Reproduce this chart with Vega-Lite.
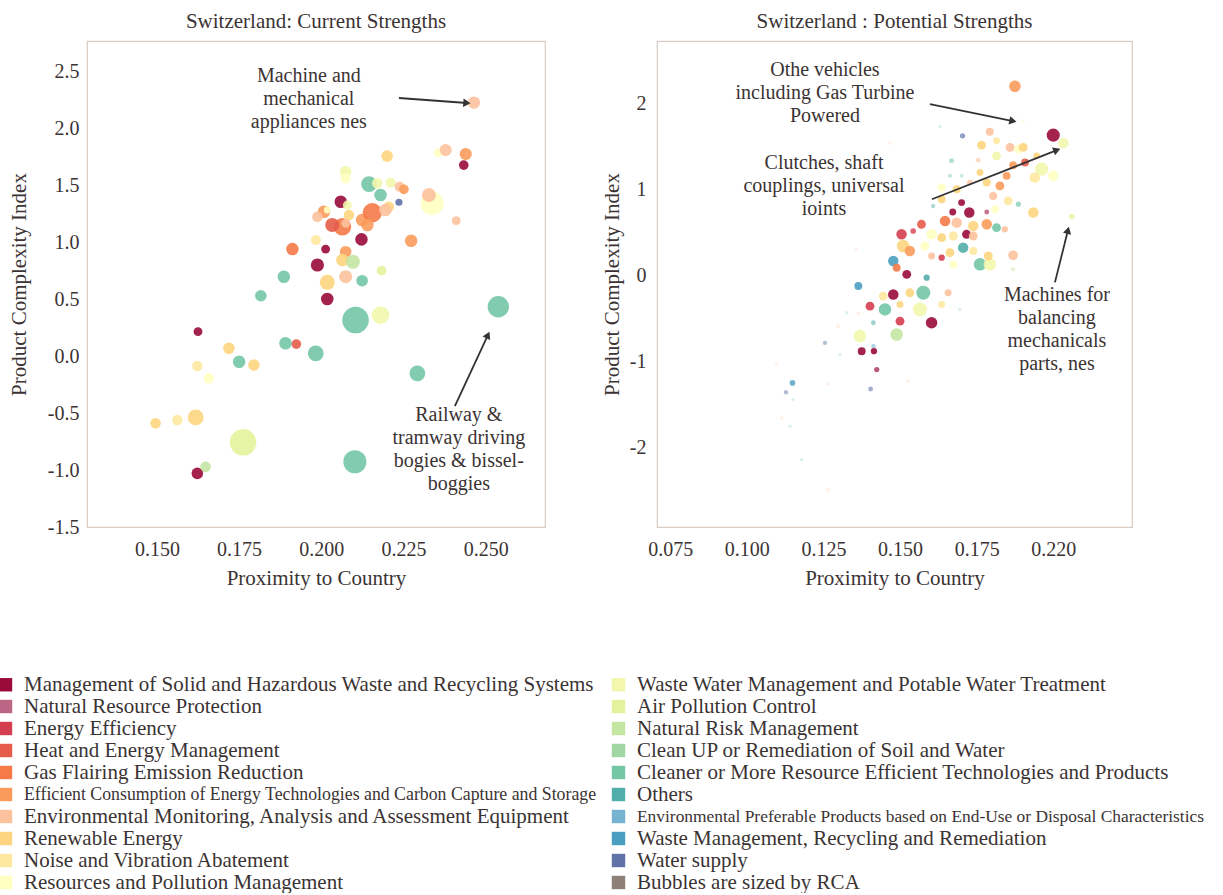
{
  "$schema": "https://vega.github.io/schema/vega-lite/v6.json",
  "background": "white",
  "padding": {"left": -5, "top": 10, "right": 0, "bottom": 0},
  "autosize": {"type": "pad"},
  "spacing": 54,
  "resolve": {"scale": {"color": "shared", "size": "shared", "opacity": "shared"}},
  "datasets": {
    "left": [
      {"x": 0.2464, "y": 2.228, "rca": 1.96, "cat": "Environmental Monitoring, Analysis and Assessment Equipment"},
      {"x": 0.2200, "y": 1.759, "rca": 1.7, "cat": "Renewable Energy"},
      {"x": 0.2355, "y": 1.788, "rca": 1.0, "cat": "Resources and Pollution Management"},
      {"x": 0.2378, "y": 1.812, "rca": 1.9, "cat": "Environmental Monitoring, Analysis and Assessment Equipment"},
      {"x": 0.2439, "y": 1.777, "rca": 1.9, "cat": "Efficient Consumption of Energy Technologies and Carbon Capture and Storage"},
      {"x": 0.2433, "y": 1.680, "rca": 1.2, "cat": "Management of Solid and Hazardous Waste and Recycling Systems"},
      {"x": 0.2074, "y": 1.622, "rca": 1.7, "cat": "Waste Water Management and Potable Water Treatment"},
      {"x": 0.2074, "y": 1.563, "rca": 1.4, "cat": "Resources and Pollution Management"},
      {"x": 0.2145, "y": 1.513, "rca": 3.2, "cat": "Cleaner or More Resource Efficient Technologies and Products"},
      {"x": 0.2170, "y": 1.520, "rca": 1.4, "cat": "Waste Water Management and Potable Water Treatment"},
      {"x": 0.2211, "y": 1.525, "rca": 1.3, "cat": "Waste Water Management and Potable Water Treatment"},
      {"x": 0.2238, "y": 1.490, "rca": 1.3, "cat": "Environmental Monitoring, Analysis and Assessment Equipment"},
      {"x": 0.2251, "y": 1.467, "rca": 1.2, "cat": "Efficient Consumption of Energy Technologies and Carbon Capture and Storage"},
      {"x": 0.2180, "y": 1.417, "rca": 2.0, "cat": "Cleaner or More Resource Efficient Technologies and Products"},
      {"x": 0.2236, "y": 1.353, "rca": 0.65, "cat": "Water supply"},
      {"x": 0.2205, "y": 1.314, "rca": 1.4, "cat": "Renewable Energy"},
      {"x": 0.2059, "y": 1.358, "rca": 2.0, "cat": "Management of Solid and Hazardous Waste and Recycling Systems"},
      {"x": 0.2079, "y": 1.329, "rca": 1.0, "cat": "Waste Water Management and Potable Water Treatment"},
      {"x": 0.2008, "y": 1.270, "rca": 2.0, "cat": "Efficient Consumption of Energy Technologies and Carbon Capture and Storage"},
      {"x": 0.2018, "y": 1.285, "rca": 0.6, "cat": "Resources and Pollution Management"},
      {"x": 0.1988, "y": 1.226, "rca": 1.4, "cat": "Environmental Monitoring, Analysis and Assessment Equipment"},
      {"x": 0.2064, "y": 1.138, "rca": 4.0, "cat": "Gas Flairing Emission Reduction"},
      {"x": 0.2074, "y": 1.168, "rca": 1.0, "cat": "Environmental Monitoring, Analysis and Assessment Equipment"},
      {"x": 0.2124, "y": 1.197, "rca": 2.0, "cat": "Efficient Consumption of Energy Technologies and Carbon Capture and Storage"},
      {"x": 0.2155, "y": 1.261, "rca": 4.8, "cat": "Gas Flairing Emission Reduction"},
      {"x": 0.2140, "y": 1.153, "rca": 2.0, "cat": "Efficient Consumption of Energy Technologies and Carbon Capture and Storage"},
      {"x": 0.2195, "y": 1.285, "rca": 2.0, "cat": "Environmental Monitoring, Analysis and Assessment Equipment"},
      {"x": 0.2033, "y": 1.153, "rca": 2.5, "cat": "Heat and Energy Management"},
      {"x": 0.2084, "y": 1.241, "rca": 1.4, "cat": "Renewable Energy"},
      {"x": 0.2122, "y": 1.027, "rca": 2.0, "cat": "Management of Solid and Hazardous Waste and Recycling Systems"},
      {"x": 0.2337, "y": 1.344, "rca": 6.8, "cat": "Resources and Pollution Management"},
      {"x": 0.2327, "y": 1.417, "rca": 2.5, "cat": "Environmental Monitoring, Analysis and Assessment Equipment"},
      {"x": 0.2410, "y": 1.191, "rca": 1.0, "cat": "Environmental Monitoring, Analysis and Assessment Equipment"},
      {"x": 0.2273, "y": 1.015, "rca": 2.0, "cat": "Efficient Consumption of Energy Technologies and Carbon Capture and Storage"},
      {"x": 0.1912, "y": 0.942, "rca": 2.0, "cat": "Gas Flairing Emission Reduction"},
      {"x": 0.2013, "y": 0.942, "rca": 1.0, "cat": "Management of Solid and Hazardous Waste and Recycling Systems"},
      {"x": 0.1983, "y": 1.021, "rca": 1.3, "cat": "Noise and Vibration Abatement"},
      {"x": 0.1988, "y": 0.802, "rca": 2.2, "cat": "Management of Solid and Hazardous Waste and Recycling Systems"},
      {"x": 0.2074, "y": 0.919, "rca": 1.7, "cat": "Efficient Consumption of Energy Technologies and Carbon Capture and Storage"},
      {"x": 0.2064, "y": 0.846, "rca": 2.0, "cat": "Renewable Energy"},
      {"x": 0.2096, "y": 0.831, "rca": 2.5, "cat": "Natural Risk Management"},
      {"x": 0.2183, "y": 0.752, "rca": 1.2, "cat": "Air Pollution Control"},
      {"x": 0.2018, "y": 0.650, "rca": 2.9, "cat": "Renewable Energy"},
      {"x": 0.2074, "y": 0.699, "rca": 2.2, "cat": "Environmental Monitoring, Analysis and Assessment Equipment"},
      {"x": 0.2124, "y": 0.664, "rca": 1.7, "cat": "Cleaner or More Resource Efficient Technologies and Products"},
      {"x": 0.1886, "y": 0.699, "rca": 2.0, "cat": "Cleaner or More Resource Efficient Technologies and Products"},
      {"x": 0.1816, "y": 0.532, "rca": 1.7, "cat": "Cleaner or More Resource Efficient Technologies and Products"},
      {"x": 0.2018, "y": 0.503, "rca": 2.0, "cat": "Management of Solid and Hazardous Waste and Recycling Systems"},
      {"x": 0.2104, "y": 0.318, "rca": 9.0, "cat": "Cleaner or More Resource Efficient Technologies and Products"},
      {"x": 0.2180, "y": 0.362, "rca": 4.0, "cat": "Waste Water Management and Potable Water Treatment"},
      {"x": 0.2538, "y": 0.435, "rca": 5.8, "cat": "Cleaner or More Resource Efficient Technologies and Products"},
      {"x": 0.1625, "y": 0.216, "rca": 1.0, "cat": "Management of Solid and Hazardous Waste and Recycling Systems"},
      {"x": 0.1719, "y": 0.070, "rca": 1.7, "cat": "Renewable Energy"},
      {"x": 0.1891, "y": 0.114, "rca": 2.0, "cat": "Cleaner or More Resource Efficient Technologies and Products"},
      {"x": 0.1924, "y": 0.107, "rca": 1.2, "cat": "Heat and Energy Management"},
      {"x": 0.1983, "y": 0.026, "rca": 3.2, "cat": "Cleaner or More Resource Efficient Technologies and Products"},
      {"x": 0.1750, "y": -0.048, "rca": 2.0, "cat": "Cleaner or More Resource Efficient Technologies and Products"},
      {"x": 0.1795, "y": -0.077, "rca": 1.7, "cat": "Renewable Energy"},
      {"x": 0.1623, "y": -0.086, "rca": 1.4, "cat": "Noise and Vibration Abatement"},
      {"x": 0.1658, "y": -0.194, "rca": 1.4, "cat": "Resources and Pollution Management"},
      {"x": 0.2292, "y": -0.150, "rca": 3.2, "cat": "Cleaner or More Resource Efficient Technologies and Products"},
      {"x": 0.1496, "y": -0.589, "rca": 1.4, "cat": "Renewable Energy"},
      {"x": 0.1562, "y": -0.560, "rca": 1.4, "cat": "Noise and Vibration Abatement"},
      {"x": 0.1618, "y": -0.537, "rca": 3.2, "cat": "Renewable Energy"},
      {"x": 0.1762, "y": -0.756, "rca": 9.0, "cat": "Air Pollution Control"},
      {"x": 0.2102, "y": -0.927, "rca": 6.8, "cat": "Cleaner or More Resource Efficient Technologies and Products"},
      {"x": 0.1623, "y": -1.029, "rca": 1.7, "cat": "Management of Solid and Hazardous Waste and Recycling Systems"},
      {"x": 0.1648, "y": -0.971, "rca": 1.4, "cat": "Natural Risk Management"}
    ],
    "right": [
      {"x": 0.1875, "y": 2.194, "rca": 1.7, "cat": "Efficient Consumption of Energy Technologies and Carbon Capture and Storage"},
      {"x": 0.1902, "y": 1.794, "rca": 0.15, "cat": "Air Pollution Control"},
      {"x": 0.1630, "y": 1.729, "rca": 0.15, "cat": "Cleaner or More Resource Efficient Technologies and Products"},
      {"x": 0.1467, "y": 1.533, "rca": 0.15, "cat": "Environmental Monitoring, Analysis and Assessment Equipment"},
      {"x": 0.1704, "y": 1.620, "rca": 0.35, "cat": "Water supply"},
      {"x": 0.2000, "y": 1.628, "rca": 2.2, "cat": "Management of Solid and Hazardous Waste and Recycling Systems"},
      {"x": 0.2033, "y": 1.535, "rca": 1.4, "cat": "Waste Water Management and Potable Water Treatment"},
      {"x": 0.1793, "y": 1.667, "rca": 0.8, "cat": "Environmental Monitoring, Analysis and Assessment Equipment"},
      {"x": 0.1766, "y": 1.512, "rca": 1.0, "cat": "Renewable Energy"},
      {"x": 0.1815, "y": 1.562, "rca": 0.6, "cat": "Noise and Vibration Abatement"},
      {"x": 0.1859, "y": 1.485, "rca": 1.0, "cat": "Environmental Monitoring, Analysis and Assessment Equipment"},
      {"x": 0.1886, "y": 1.465, "rca": 1.0, "cat": "Resources and Pollution Management"},
      {"x": 0.1902, "y": 1.485, "rca": 1.0, "cat": "Renewable Energy"},
      {"x": 0.1815, "y": 1.387, "rca": 1.0, "cat": "Waste Water Management and Potable Water Treatment"},
      {"x": 0.1755, "y": 1.337, "rca": 0.3, "cat": "Environmental Monitoring, Analysis and Assessment Equipment"},
      {"x": 0.1668, "y": 1.330, "rca": 0.3, "cat": "Cleaner or More Resource Efficient Technologies and Products"},
      {"x": 0.1869, "y": 1.279, "rca": 0.8, "cat": "Efficient Consumption of Energy Technologies and Carbon Capture and Storage"},
      {"x": 0.1908, "y": 1.310, "rca": 0.8, "cat": "Heat and Energy Management"},
      {"x": 0.1962, "y": 1.233, "rca": 2.2, "cat": "Waste Water Management and Potable Water Treatment"},
      {"x": 0.2000, "y": 1.155, "rca": 1.4, "cat": "Resources and Pollution Management"},
      {"x": 0.1940, "y": 1.136, "rca": 1.4, "cat": "Noise and Vibration Abatement"},
      {"x": 0.1848, "y": 1.155, "rca": 0.8, "cat": "Efficient Consumption of Energy Technologies and Carbon Capture and Storage"},
      {"x": 0.1761, "y": 1.194, "rca": 0.6, "cat": "Renewable Energy"},
      {"x": 0.1701, "y": 1.155, "rca": 0.2, "cat": "Cleaner or More Resource Efficient Technologies and Products"},
      {"x": 0.1728, "y": 1.078, "rca": 0.4, "cat": "Environmental Monitoring, Analysis and Assessment Equipment"},
      {"x": 0.1783, "y": 1.078, "rca": 0.8, "cat": "Renewable Energy"},
      {"x": 0.1826, "y": 1.039, "rca": 1.0, "cat": "Efficient Consumption of Energy Technologies and Carbon Capture and Storage"},
      {"x": 0.1636, "y": 1.020, "rca": 0.8, "cat": "Resources and Pollution Management"},
      {"x": 0.1685, "y": 1.000, "rca": 0.8, "cat": "Renewable Energy"},
      {"x": 0.1804, "y": 0.922, "rca": 0.8, "cat": "Environmental Monitoring, Analysis and Assessment Equipment"},
      {"x": 0.1853, "y": 0.864, "rca": 1.0, "cat": "Noise and Vibration Abatement"},
      {"x": 0.1886, "y": 0.826, "rca": 0.35, "cat": "Cleaner or More Resource Efficient Technologies and Products"},
      {"x": 0.1935, "y": 0.729, "rca": 1.4, "cat": "Renewable Energy"},
      {"x": 0.1810, "y": 0.767, "rca": 0.8, "cat": "Resources and Pollution Management"},
      {"x": 0.2060, "y": 0.683, "rca": 0.4, "cat": "Air Pollution Control"},
      {"x": 0.1701, "y": 0.845, "rca": 0.6, "cat": "Management of Solid and Hazardous Waste and Recycling Systems"},
      {"x": 0.1726, "y": 0.729, "rca": 1.4, "cat": "Management of Solid and Hazardous Waste and Recycling Systems"},
      {"x": 0.1672, "y": 0.736, "rca": 0.6, "cat": "Management of Solid and Hazardous Waste and Recycling Systems"},
      {"x": 0.1783, "y": 0.736, "rca": 0.3, "cat": "Management of Solid and Hazardous Waste and Recycling Systems"},
      {"x": 0.1608, "y": 0.806, "rca": 0.25, "cat": "Others"},
      {"x": 0.1636, "y": 0.884, "rca": 0.8, "cat": "Renewable Energy"},
      {"x": 0.1647, "y": 0.632, "rca": 1.4, "cat": "Gas Flairing Emission Reduction"},
      {"x": 0.1685, "y": 0.612, "rca": 1.4, "cat": "Environmental Monitoring, Analysis and Assessment Equipment"},
      {"x": 0.1739, "y": 0.574, "rca": 1.4, "cat": "Renewable Energy"},
      {"x": 0.1783, "y": 0.593, "rca": 1.4, "cat": "Efficient Consumption of Energy Technologies and Carbon Capture and Storage"},
      {"x": 0.1815, "y": 0.554, "rca": 1.0, "cat": "Cleaner or More Resource Efficient Technologies and Products"},
      {"x": 0.1842, "y": 0.535, "rca": 0.5, "cat": "Environmental Monitoring, Analysis and Assessment Equipment"},
      {"x": 0.1505, "y": 0.477, "rca": 1.4, "cat": "Energy Efficiency"},
      {"x": 0.1570, "y": 0.593, "rca": 1.0, "cat": "Heat and Energy Management"},
      {"x": 0.1543, "y": 0.515, "rca": 0.4, "cat": "Energy Efficiency"},
      {"x": 0.1603, "y": 0.477, "rca": 1.4, "cat": "Resources and Pollution Management"},
      {"x": 0.1636, "y": 0.438, "rca": 1.0, "cat": "Renewable Energy"},
      {"x": 0.1674, "y": 0.457, "rca": 1.0, "cat": "Noise and Vibration Abatement"},
      {"x": 0.1717, "y": 0.477, "rca": 1.0, "cat": "Management of Solid and Hazardous Waste and Recycling Systems"},
      {"x": 0.1739, "y": 0.457, "rca": 1.0, "cat": "Environmental Monitoring, Analysis and Assessment Equipment"},
      {"x": 0.1706, "y": 0.322, "rca": 1.4, "cat": "Others"},
      {"x": 0.1510, "y": 0.341, "rca": 2.0, "cat": "Renewable Energy"},
      {"x": 0.1532, "y": 0.283, "rca": 1.4, "cat": "Efficient Consumption of Energy Technologies and Carbon Capture and Storage"},
      {"x": 0.1478, "y": 0.166, "rca": 1.4, "cat": "Waste Management, Recycling and Remediation"},
      {"x": 0.1489, "y": 0.089, "rca": 0.8, "cat": "Gas Flairing Emission Reduction"},
      {"x": 0.1581, "y": 0.341, "rca": 1.0, "cat": "Resources and Pollution Management"},
      {"x": 0.1603, "y": 0.225, "rca": 0.6, "cat": "Environmental Monitoring, Analysis and Assessment Equipment"},
      {"x": 0.1636, "y": 0.205, "rca": 0.5, "cat": "Energy Efficiency"},
      {"x": 0.1663, "y": 0.264, "rca": 1.0, "cat": "Renewable Energy"},
      {"x": 0.1739, "y": 0.283, "rca": 0.8, "cat": "Noise and Vibration Abatement"},
      {"x": 0.1761, "y": 0.128, "rca": 2.0, "cat": "Cleaner or More Resource Efficient Technologies and Products"},
      {"x": 0.1793, "y": 0.128, "rca": 2.0, "cat": "Waste Water Management and Potable Water Treatment"},
      {"x": 0.1788, "y": 0.225, "rca": 1.0, "cat": "Renewable Energy"},
      {"x": 0.1869, "y": 0.233, "rca": 1.2, "cat": "Environmental Monitoring, Analysis and Assessment Equipment"},
      {"x": 0.1869, "y": 0.070, "rca": 0.25, "cat": "Natural Risk Management"},
      {"x": 0.1674, "y": 0.128, "rca": 0.8, "cat": "Resources and Pollution Management"},
      {"x": 0.1522, "y": 0.012, "rca": 1.0, "cat": "Management of Solid and Hazardous Waste and Recycling Systems"},
      {"x": 0.1587, "y": -0.027, "rca": 0.5, "cat": "Others"},
      {"x": 0.1358, "y": 0.302, "rca": 0.15, "cat": "Environmental Monitoring, Analysis and Assessment Equipment"},
      {"x": 0.1364, "y": -0.124, "rca": 0.8, "cat": "Waste Management, Recycling and Remediation"},
      {"x": 0.1478, "y": -0.221, "rca": 1.4, "cat": "Management of Solid and Hazardous Waste and Recycling Systems"},
      {"x": 0.1445, "y": -0.240, "rca": 1.0, "cat": "Noise and Vibration Abatement"},
      {"x": 0.1532, "y": -0.202, "rca": 1.0, "cat": "Renewable Energy"},
      {"x": 0.1576, "y": -0.202, "rca": 2.5, "cat": "Cleaner or More Resource Efficient Technologies and Products"},
      {"x": 0.1657, "y": -0.202, "rca": 0.6, "cat": "Environmental Monitoring, Analysis and Assessment Equipment"},
      {"x": 0.1402, "y": -0.357, "rca": 1.0, "cat": "Energy Efficiency"},
      {"x": 0.1451, "y": -0.395, "rca": 2.0, "cat": "Cleaner or More Resource Efficient Technologies and Products"},
      {"x": 0.1500, "y": -0.337, "rca": 0.6, "cat": "Renewable Energy"},
      {"x": 0.1565, "y": -0.395, "rca": 2.5, "cat": "Waste Water Management and Potable Water Treatment"},
      {"x": 0.1636, "y": -0.337, "rca": 0.6, "cat": "Noise and Vibration Abatement"},
      {"x": 0.1500, "y": -0.531, "rca": 1.0, "cat": "Energy Efficiency"},
      {"x": 0.1603, "y": -0.550, "rca": 1.7, "cat": "Management of Solid and Hazardous Waste and Recycling Systems"},
      {"x": 0.1413, "y": -0.550, "rca": 0.3, "cat": "Others"},
      {"x": 0.1326, "y": -0.434, "rca": 0.15, "cat": "Cleaner or More Resource Efficient Technologies and Products"},
      {"x": 0.1364, "y": -0.442, "rca": 0.15, "cat": "Environmental Monitoring, Analysis and Assessment Equipment"},
      {"x": 0.1369, "y": -0.705, "rca": 2.0, "cat": "Waste Water Management and Potable Water Treatment"},
      {"x": 0.1489, "y": -0.686, "rca": 2.0, "cat": "Natural Risk Management"},
      {"x": 0.1413, "y": -0.822, "rca": 0.25, "cat": "Waste Management, Recycling and Remediation"},
      {"x": 0.1375, "y": -0.880, "rca": 0.8, "cat": "Management of Solid and Hazardous Waste and Recycling Systems"},
      {"x": 0.1415, "y": -0.880, "rca": 0.5, "cat": "Management of Solid and Hazardous Waste and Recycling Systems"},
      {"x": 0.1298, "y": -0.590, "rca": 0.15, "cat": "Environmental Monitoring, Analysis and Assessment Equipment"},
      {"x": 0.1255, "y": -0.783, "rca": 0.25, "cat": "Water supply"},
      {"x": 0.1304, "y": -0.919, "rca": 0.15, "cat": "Cleaner or More Resource Efficient Technologies and Products"},
      {"x": 0.1424, "y": -1.093, "rca": 0.35, "cat": "Management of Solid and Hazardous Waste and Recycling Systems"},
      {"x": 0.1404, "y": -1.318, "rca": 0.3, "cat": "Water supply"},
      {"x": 0.1527, "y": -1.229, "rca": 0.15, "cat": "Environmental Monitoring, Analysis and Assessment Equipment"},
      {"x": 0.1695, "y": -0.395, "rca": 0.15, "cat": "Cleaner or More Resource Efficient Technologies and Products"},
      {"x": 0.1266, "y": -1.264, "rca": 0.15, "cat": "Environmental Monitoring, Analysis and Assessment Equipment"},
      {"x": 0.1149, "y": -1.248, "rca": 0.4, "cat": "Waste Management, Recycling and Remediation"},
      {"x": 0.1128, "y": -1.357, "rca": 0.25, "cat": "Water supply"},
      {"x": 0.1097, "y": -1.035, "rca": 0.15, "cat": "Environmental Monitoring, Analysis and Assessment Equipment"},
      {"x": 0.1141, "y": -1.752, "rca": 0.15, "cat": "Cleaner or More Resource Efficient Technologies and Products"},
      {"x": 0.1114, "y": -1.655, "rca": 0.15, "cat": "Environmental Monitoring, Analysis and Assessment Equipment"},
      {"x": 0.1179, "y": -2.140, "rca": 0.15, "cat": "Cleaner or More Resource Efficient Technologies and Products"},
      {"x": 0.1266, "y": -2.488, "rca": 0.15, "cat": "Environmental Monitoring, Analysis and Assessment Equipment"},
      {"x": 0.1151, "y": -1.442, "rca": 0.15, "cat": "Cleaner or More Resource Efficient Technologies and Products"},
      {"x": 0.1663, "y": 1.155, "rca": 0.2, "cat": "Others"},
      {"x": 0.1946, "y": 1.387, "rca": 0.6, "cat": "Renewable Energy"}
    ],
    "leftNotes": [
      {"x": 0.1962, "y": 2.550, "label": "Machine and\nmechanical\nappliances nes"},
      {"x": 0.2418, "y": -0.424, "label": "Railway &\ntramway driving\nbogies & bissel-\nboggies"}
    ],
    "rightNotes": [
      {"x": 0.1255, "y": 2.500, "label": "Othe vehicles\nincluding Gas Turbine\nPowered"},
      {"x": 0.1252, "y": 1.419, "label": "Clutches, shaft\ncouplings, universal\nioints"},
      {"x": 0.2012, "y": -0.116, "label": "Machines for\nbalancing\nmechanicals\nparts, nes"}
    ],
    "leftArrows": [
      {"id": "machine", "x": 0.24426, "y": 2.2252, "x2": 0.22359, "y2": 2.2691},
      {"id": "railway", "x": 0.25064, "y": 0.1865, "x2": 0.2406, "y2": -0.4374}
    ],
    "rightArrows": [
      {"id": "othe", "x": 0.18685, "y": 1.7907, "x2": 0.15976, "y2": 1.9884},
      {"id": "clutches", "x": 0.20121, "y": 1.4535, "x2": 0.16041, "y2": 0.8837},
      {"id": "balancing", "x": 0.2048, "y": 0.5233, "x2": 0.20056, "y2": -0.0814}
    ]
  },
  "hconcat": [
    {
      "width": 458,
      "height": 486,
      "title": {"text": "Switzerland: Current Strengths"},
      "encoding": {
        "x": {"field": "x", "type": "quantitative", "scale": {"domain": [0.12875, 0.268], "nice": false, "zero": false}, "axis": {"title": "Proximity to Country", "values": [0.15, 0.175, 0.2, 0.225, 0.25], "format": ".3f"}},
        "y": {"field": "y", "type": "quantitative", "scale": {"domain": [-1.5, 2.77], "nice": false, "zero": false}, "axis": {"title": "Product Complexity Index", "values": [-1.5, -1, -0.5, 0, 0.5, 1, 1.5, 2, 2.5], "labelExpr": "(datum.value < 0 ? '-' : '') + format(abs(datum.value), '.1f')", "labelPadding": 8, "titlePadding": 18}}
      },
      "layer": [
        {
          "data": {"name": "left"},
          "mark": {"type": "circle"},
          "encoding": {
            "color": {
              "field": "cat",
              "type": "nominal",
              "scale": {
                "domain": ["Management of Solid and Hazardous Waste and Recycling Systems", "Natural Resource Protection", "Energy Efficiency", "Heat and Energy Management", "Gas Flairing Emission Reduction", "Efficient Consumption of Energy Technologies and Carbon Capture and Storage", "Environmental Monitoring, Analysis and Assessment Equipment", "Renewable Energy", "Noise and Vibration Abatement", "Resources and Pollution Management", "Waste Water Management and Potable Water Treatment", "Air Pollution Control", "Natural Risk Management", "Clean UP or Remediation of Soil and Water", "Cleaner or More Resource Efficient Technologies and Products", "Others", "Environmental Preferable Products based on End-Use or Disposal Characteristics", "Waste Management, Recycling and Remediation", "Water supply", "Bubbles are sized by RCA"],
                "range": ["#9a0b3a", "#bc6585", "#d53e4f", "#e55c4a", "#f57a48", "#fa9b5b", "#fcc29e", "#fdd580", "#fee8a0", "#ffffc2", "#f2f7ad", "#e3f39b", "#c4e6a2", "#a0d7a3", "#73c7a5", "#52aeaa", "#76b3d0", "#4a9ec0", "#6072a8", "#8e8078"]
              },
              "legend": {
                "title": null,
                "encode": {"labels": {"update": {"fontSize": {"signal": "datum.label === 'Efficient Consumption of Energy Technologies and Carbon Capture and Storage' ? 17.8 : datum.label === 'Environmental Preferable Products based on End-Use or Disposal Characteristics' ? 17.4 : 21"}}}}
              }
            },
            "size": {"field": "rca", "type": "quantitative", "scale": {"domain": [0, 10], "range": [0, 785]}, "legend": null},
            "opacity": {"field": "rca", "type": "quantitative", "scale": {"domain": [0.15, 0.45], "range": [0.25, 0.9], "clamp": true}, "legend": null}
          }
        },
        {
          "data": {"name": "leftArrows"},
          "mark": {"type": "rule", "color": "#333333", "strokeWidth": 1.8},
          "encoding": {"x2": {"field": "x2"}, "y2": {"field": "y2"}}
        },
        {
          "data": {"name": "leftArrows"},
          "transform": [{"filter": {"field": "id", "equal": "machine"}}],
          "mark": {"type": "point", "shape": "triangle-up", "filled": true, "color": "#333333", "opacity": 1, "size": 70, "angle": 94},
          "encoding": {}
        },
        {
          "data": {"name": "leftArrows"},
          "transform": [{"filter": {"field": "id", "equal": "railway"}}],
          "mark": {"type": "point", "shape": "triangle-up", "filled": true, "color": "#333333", "opacity": 1, "size": 70, "angle": 25},
          "encoding": {}
        },
        {
          "data": {"name": "leftNotes"},
          "mark": {"type": "text", "align": "center", "baseline": "top", "lineBreak": "\n", "lineHeight": 23, "font": "Liberation Serif", "fontSize": 20, "color": "#3b3333"},
          "encoding": {"text": {"field": "label"}}
        }
      ]
    },
    {
      "width": 475,
      "height": 486,
      "title": {"text": "Switzerland : Potential Strengths"},
      "encoding": {
        "x": {"field": "x", "type": "quantitative", "scale": {"domain": [0.0707, 0.2257], "nice": false, "zero": false}, "axis": {"title": "Proximity to Country", "values": [0.075, 0.1, 0.125, 0.15, 0.175, 0.2], "labelExpr": "datum.value > 0.19 ? '0.220' : format(datum.value, '.3f')"}},
        "y": {"field": "y", "type": "quantitative", "scale": {"domain": [-2.92, 2.72], "nice": false, "zero": false}, "axis": {"title": "Product Complexity Index", "values": [-2, -1, 0, 1, 2], "labelExpr": "(datum.value < 0 ? '-' : '') + format(abs(datum.value), 'd')", "labelPadding": 11, "titlePadding": 7}}
      },
      "layer": [
        {
          "data": {"name": "right"},
          "mark": {"type": "circle"},
          "encoding": {
            "color": {
              "field": "cat",
              "type": "nominal",
              "scale": {
                "domain": ["Management of Solid and Hazardous Waste and Recycling Systems", "Natural Resource Protection", "Energy Efficiency", "Heat and Energy Management", "Gas Flairing Emission Reduction", "Efficient Consumption of Energy Technologies and Carbon Capture and Storage", "Environmental Monitoring, Analysis and Assessment Equipment", "Renewable Energy", "Noise and Vibration Abatement", "Resources and Pollution Management", "Waste Water Management and Potable Water Treatment", "Air Pollution Control", "Natural Risk Management", "Clean UP or Remediation of Soil and Water", "Cleaner or More Resource Efficient Technologies and Products", "Others", "Environmental Preferable Products based on End-Use or Disposal Characteristics", "Waste Management, Recycling and Remediation", "Water supply", "Bubbles are sized by RCA"],
                "range": ["#9a0b3a", "#bc6585", "#d53e4f", "#e55c4a", "#f57a48", "#fa9b5b", "#fcc29e", "#fdd580", "#fee8a0", "#ffffc2", "#f2f7ad", "#e3f39b", "#c4e6a2", "#a0d7a3", "#73c7a5", "#52aeaa", "#76b3d0", "#4a9ec0", "#6072a8", "#8e8078"]
              },
              "legend": {
                "title": null,
                "encode": {"labels": {"update": {"fontSize": {"signal": "datum.label === 'Efficient Consumption of Energy Technologies and Carbon Capture and Storage' ? 17.8 : datum.label === 'Environmental Preferable Products based on End-Use or Disposal Characteristics' ? 17.4 : 21"}}}}
              }
            },
            "size": {"field": "rca", "type": "quantitative", "scale": {"domain": [0, 10], "range": [0, 785]}, "legend": null},
            "opacity": {"field": "rca", "type": "quantitative", "scale": {"domain": [0.15, 0.45], "range": [0.25, 0.9], "clamp": true}, "legend": null}
          }
        },
        {
          "data": {"name": "rightArrows"},
          "mark": {"type": "rule", "color": "#333333", "strokeWidth": 1.8},
          "encoding": {"x2": {"field": "x2"}, "y2": {"field": "y2"}}
        },
        {
          "data": {"name": "rightArrows"},
          "transform": [{"filter": {"field": "id", "equal": "othe"}}],
          "mark": {"type": "point", "shape": "triangle-up", "filled": true, "color": "#333333", "opacity": 1, "size": 70, "angle": 102},
          "encoding": {}
        },
        {
          "data": {"name": "rightArrows"},
          "transform": [{"filter": {"field": "id", "equal": "clutches"}}],
          "mark": {"type": "point", "shape": "triangle-up", "filled": true, "color": "#333333", "opacity": 1, "size": 70, "angle": 69},
          "encoding": {}
        },
        {
          "data": {"name": "rightArrows"},
          "transform": [{"filter": {"field": "id", "equal": "balancing"}}],
          "mark": {"type": "point", "shape": "triangle-up", "filled": true, "color": "#333333", "opacity": 1, "size": 70, "angle": 14},
          "encoding": {}
        },
        {
          "data": {"name": "rightNotes"},
          "mark": {"type": "text", "align": "center", "baseline": "top", "lineBreak": "\n", "lineHeight": 23, "font": "Liberation Serif", "fontSize": 20, "color": "#3b3333"},
          "encoding": {"text": {"field": "label"}}
        }
      ]
    }
  ],
  "config": {
    "font": "Liberation Serif",
    "view": {"stroke": "#d8cbc3", "strokeWidth": 1.2},
    "title": {"font": "Liberation Serif", "fontSize": 21, "fontWeight": "normal", "color": "#3b3333", "offset": 9},
    "axis": {"domain": false, "ticks": false, "grid": false, "labelFont": "Liberation Serif", "labelFontSize": 20, "labelColor": "#3b3333", "titleFont": "Liberation Serif", "titleFontSize": 21, "titleFontWeight": "normal", "titleColor": "#3b3333"},
    "axisX": {"labelPadding": 12, "titlePadding": 8},
    "legend": {
      "orient": "none", "legendX": -92, "legendY": 633, "columns": 2, "padding": 0,
      "symbolType": "square", "symbolSize": 180, "symbolStrokeWidth": 0, "symbolOpacity": 1,
      "labelFont": "Liberation Serif", "labelFontSize": 21, "labelColor": "#3b3333", "labelLimit": 900,
      "rowPadding": 0, "columnPadding": 11, "labelOffset": 8
    }
  }
}
